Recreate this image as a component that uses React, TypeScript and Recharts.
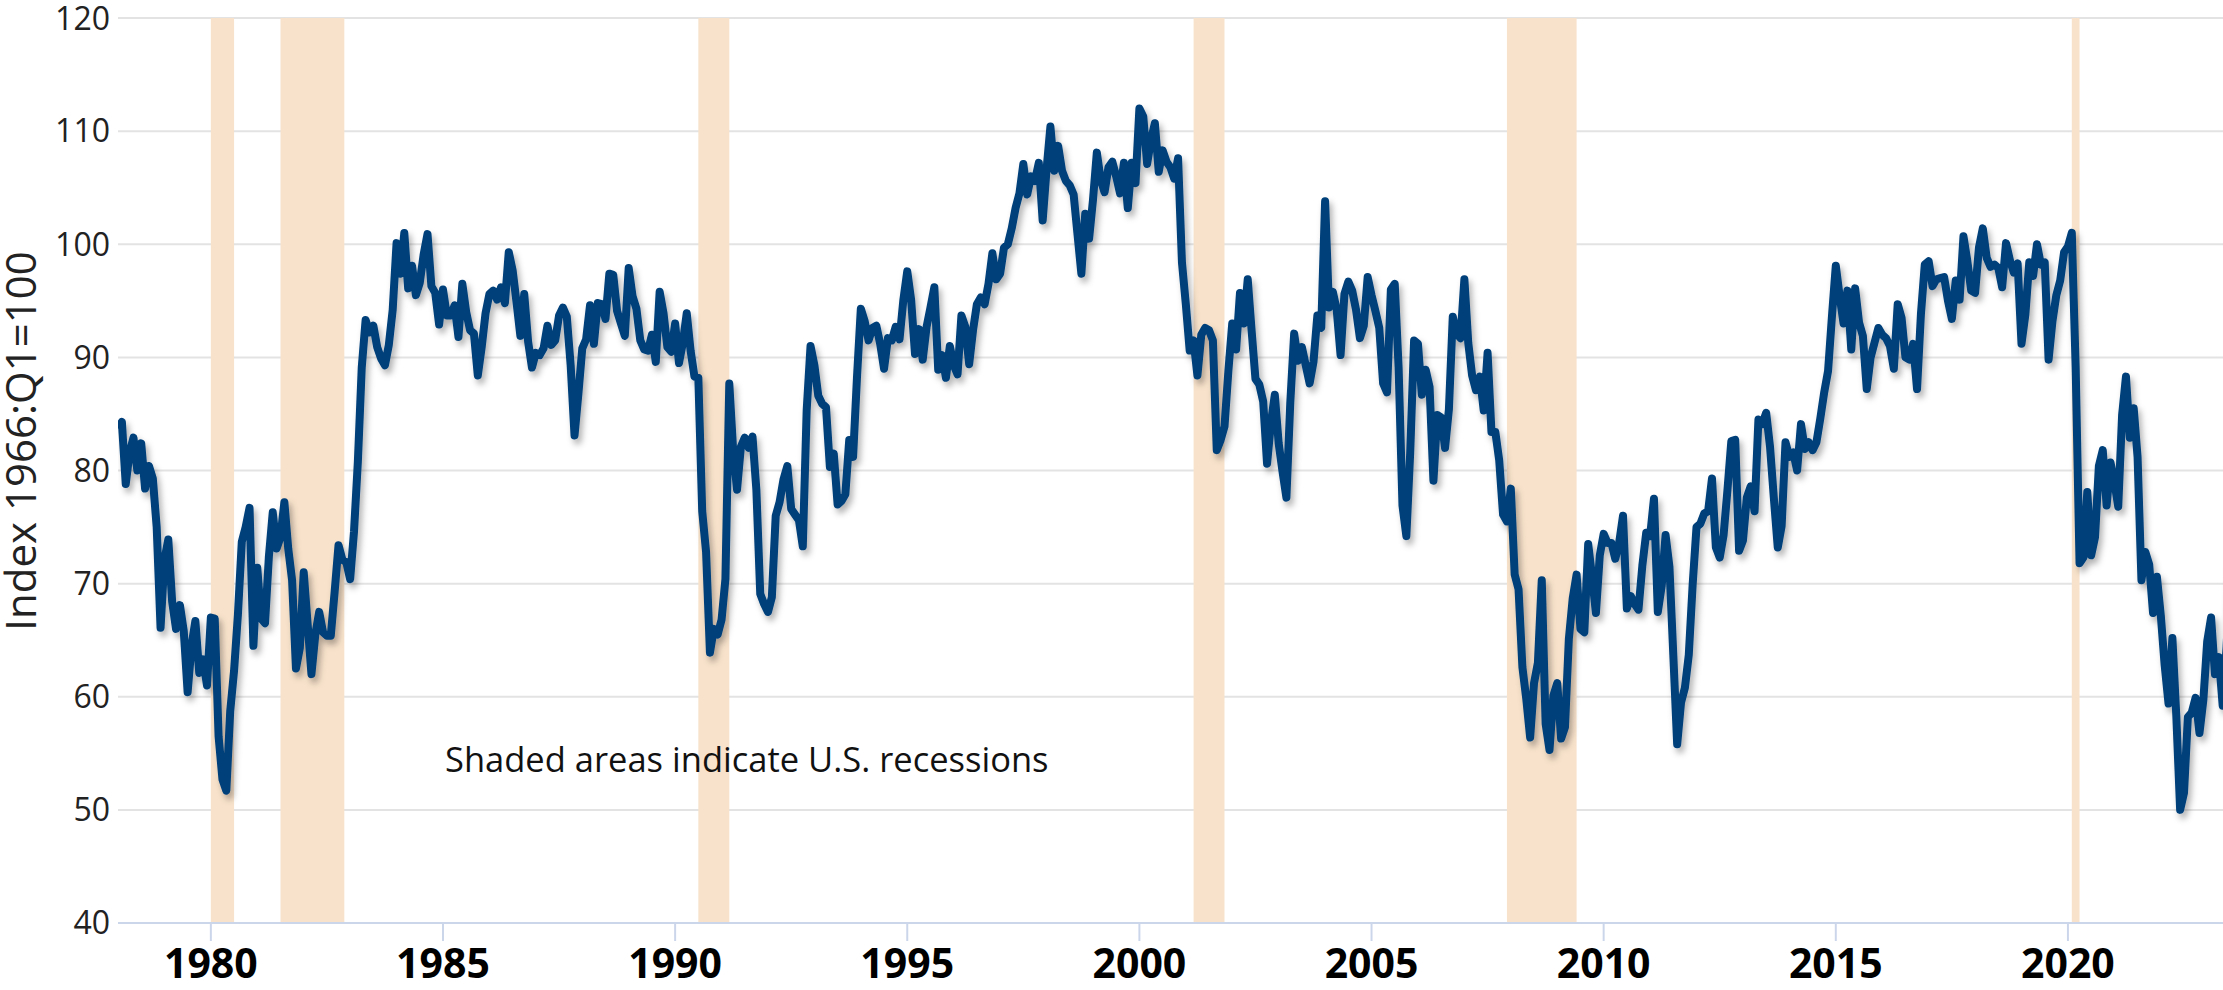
import { CartesianGrid, Line, LineChart, ReferenceArea, XAxis, YAxis } from "recharts"

// University of Michigan consumer sentiment, monthly, Jan 1978 onward
const startYear = 1978

const sentiment1970s = [
  83.7, 84.3, 78.8, 81.6, 82.9, 80.0, 82.4, 78.4, 80.4, 79.3, 75.0, 66.1,
  72.1, 73.9, 68.4, 66.0, 68.1, 65.8, 60.4, 64.5, 66.7, 62.1, 63.3, 61.0,
]

const sentiment1980s = [
  67.0, 66.9, 56.5, 52.7, 51.7, 58.7, 62.3, 67.3, 73.7, 75.0, 76.7, 64.5,
  71.4, 66.9, 66.5, 72.4, 76.3, 73.1, 74.1, 77.2, 73.1, 70.3, 62.5, 64.3,
  71.0, 66.5, 62.0, 65.5, 67.5, 65.7, 65.4, 65.4, 69.3, 73.4, 72.1, 71.9,
  70.4, 74.6, 80.8, 89.1, 93.3, 92.2, 92.8, 90.9, 89.9, 89.3, 91.1, 94.2,
  100.1, 97.4, 101.0, 96.1, 98.1, 95.5, 96.6, 99.1, 100.9, 96.3, 95.7, 92.9,
  96.0, 93.7, 93.7, 94.6, 91.8, 96.5, 94.0, 92.4, 92.1, 88.4, 90.9, 93.9,
  95.6, 95.9, 95.1, 96.2, 94.8, 99.3, 97.7, 94.9, 91.9, 95.6, 91.4, 89.1,
  90.4, 90.2, 90.8, 92.8, 91.1, 91.5, 93.7, 94.4, 93.6, 89.3, 83.1, 86.8,
  90.8, 91.6, 94.6, 91.2, 94.8, 94.7, 93.4, 97.4, 97.3, 94.1, 93.0, 91.9,
  97.9, 95.4, 94.3, 91.5, 90.7, 90.6, 92.0, 89.6, 95.8, 93.9, 90.9, 90.5,
]

const sentiment1990s = [
  93.0, 89.5, 91.3, 93.9, 90.6, 88.3, 88.2, 76.4, 72.8, 63.9, 66.0, 65.5,
  66.8, 70.4, 87.7, 81.8, 78.3, 82.1, 82.9, 82.0, 83.0, 78.3, 69.1, 68.2,
  67.5, 68.8, 76.0, 77.2, 79.2, 80.4, 76.6, 76.1, 75.6, 73.3, 85.3, 91.0,
  89.3, 86.6, 85.9, 85.6, 80.3, 81.5, 77.0, 77.3, 77.9, 82.7, 81.2, 88.2,
  94.3, 93.2, 91.5, 92.6, 92.8, 91.2, 89.0, 91.7, 91.5, 92.7, 91.6, 95.1,
  97.6, 95.1, 90.3, 92.5, 89.8, 92.7, 94.4, 96.2, 88.9, 90.2, 88.2, 91.0,
  89.3, 88.5, 93.7, 92.7, 89.4, 92.4, 94.7, 95.3, 94.7, 96.5, 99.2, 96.9,
  97.4, 99.7, 100.0, 101.4, 103.2, 104.5, 107.1, 104.4, 106.0, 105.6, 107.2, 102.1,
  106.6, 110.4, 106.5, 108.7, 106.5, 105.6, 105.2, 104.4, 100.9, 97.4, 102.7, 100.5,
  103.9, 108.1, 105.7, 104.6, 106.8, 107.3, 106.0, 104.5, 107.2, 103.2, 107.2, 105.4,
]

const sentiment2000s = [
  112.0, 111.3, 107.1, 109.2, 110.7, 106.4, 108.3, 107.3, 106.8, 105.8, 107.6, 98.4,
  94.7, 90.6, 91.5, 88.4, 92.0, 92.6, 92.4, 91.5, 81.8, 82.7, 83.9, 88.8,
  93.0, 90.7, 95.7, 93.0, 96.9, 92.4, 88.1, 87.6, 86.1, 80.6, 84.2, 86.7,
  82.4, 79.9, 77.6, 86.0, 92.1, 89.7, 90.9, 89.3, 87.7, 89.6, 93.7, 92.6,
  103.8, 94.4, 95.8, 94.2, 90.2, 95.6, 96.7, 95.9, 94.2, 91.7, 92.8, 97.1,
  95.5, 94.1, 92.6, 87.7, 86.9, 96.0, 96.5, 89.1, 76.9, 74.2, 81.6, 91.5,
  91.2, 86.7, 88.9, 87.4, 79.1, 84.9, 84.7, 82.0, 85.4, 93.6, 92.1, 91.7,
  96.9, 91.3, 88.4, 87.1, 88.3, 85.3, 90.4, 83.4, 83.4, 80.9, 76.1, 75.5,
  78.4, 70.8, 69.5, 62.6, 59.8, 56.4, 61.2, 63.0, 70.3, 57.6, 55.3, 60.1,
  61.2, 56.3, 57.3, 65.1, 68.7, 70.8, 66.0, 65.7, 73.5, 70.6, 67.4, 72.5,
]

const sentiment2010s = [
  74.4, 73.6, 73.6, 72.2, 73.6, 76.0, 67.8, 68.9, 68.2, 67.7, 71.6, 74.5,
  74.2, 77.5, 67.5, 69.8, 74.3, 71.5, 63.7, 55.8, 59.5, 60.8, 63.7, 69.9,
  75.0, 75.3, 76.2, 76.4, 79.3, 73.2, 72.3, 74.3, 78.3, 82.6, 82.7, 72.9,
  73.8, 77.6, 78.6, 76.4, 84.5, 84.1, 85.1, 82.1, 77.5, 73.2, 75.1, 82.5,
  81.2, 81.6, 80.0, 84.1, 81.9, 82.5, 81.8, 82.5, 84.6, 86.9, 88.8, 93.6,
  98.1, 95.4, 93.0, 95.9, 90.7, 96.1, 93.1, 91.9, 87.2, 90.0, 91.3, 92.6,
  92.0, 91.7, 91.0, 89.0, 94.7, 93.5, 90.0, 89.8, 91.2, 87.2, 93.8, 98.2,
  98.5, 96.3, 96.9, 97.0, 97.1, 95.0, 93.4, 96.8, 95.1, 100.7, 98.5, 95.9,
  95.7, 99.7, 101.4, 98.8, 98.0, 98.2, 97.9, 96.2, 100.1, 98.6, 97.5, 98.3,
  91.2, 93.8, 98.4, 97.2, 100.0, 98.2, 98.4, 89.8, 93.2, 95.5, 96.8, 99.3,
]

const sentiment2020s = [
  99.8, 101.0, 89.1, 71.8, 72.3, 78.1, 72.5, 74.1, 80.4, 81.8, 76.9, 80.7,
  79.0, 76.8, 84.9, 88.3, 82.9, 85.5, 81.2, 70.3, 72.8, 71.7, 67.4, 70.6,
  67.2, 62.8, 59.4, 65.2, 58.4, 50.0, 51.5, 58.2, 58.6, 59.9, 56.8, 59.7,
  64.9, 67.0, 62.0, 63.5, 59.2, 64.4, 71.6,
]

const recessions = [
  { start: 1980.0, end: 1980.5 },
  { start: 1981.5, end: 1982.875 },
  { start: 1990.5, end: 1991.167 },
  { start: 2001.167, end: 2001.833 },
  { start: 2007.917, end: 2009.417 },
  { start: 2020.083, end: 2020.25 },
]

const xTicks = [1980, 1985, 1990, 1995, 2000, 2005, 2010, 2015, 2020]
const yTicks = [40, 50, 60, 70, 80, 90, 100, 110, 120]

const monthly = [
  ...sentiment1970s,
  ...sentiment1980s,
  ...sentiment1990s,
  ...sentiment2000s,
  ...sentiment2010s,
  ...sentiment2020s,
]

const data = monthly.map((value, i) => ({ t: startYear + i / 12, value }))

const font = "'Open Sans', sans-serif"

export default function App() {
  return (
    <div style={{ position: "absolute", left: 0, top: 0, width: 2223, height: 990, background: "#fff", fontFamily: font }}>
      <style>{`.recharts-line-curve { filter: url(#lineShadow); }`}</style>
      <svg width={0} height={0} style={{ position: "absolute" }}>
        <defs>
          <filter id="lineShadow" x="-5%" y="-5%" width="110%" height="115%">
            <feDropShadow dx="3" dy="5" stdDeviation="3" floodColor="#000" floodOpacity="0.3" />
          </filter>
        </defs>
      </svg>
      <LineChart width={2223} height={990} data={data} margin={{ top: 18, right: 0, bottom: 0, left: 0 }}>
        <CartesianGrid vertical={false} stroke="#e3e3e3" strokeWidth={2} />
        {recessions.map((r) => (
          <ReferenceArea key={r.start} x1={r.start} x2={r.end} y1={40} y2={120} fill="#f8e2cb" fillOpacity={1} stroke="none" />
        ))}
        <XAxis
          dataKey="t"
          type="number"
          domain={[1978, 2023.34]}
          allowDataOverflow
          ticks={xTicks}
          height={67}
          axisLine={{ stroke: "#ccd6eb", strokeWidth: 2 }}
          tickLine={{ stroke: "#ccd6eb", strokeWidth: 2 }}
          tickSize={18}
          tickMargin={8}
          tick={{ fontSize: 41, fontWeight: 700, fill: "#000", fontFamily: font }}
        />
        <YAxis
          type="number"
          domain={[40, 120]}
          ticks={yTicks}
          width={118}
          axisLine={false}
          tickLine={false}
          tick={{ fontSize: 32, fill: "#222", fontFamily: font }}
        />
        <Line
          type="linear"
          dataKey="value"
          stroke="#00407a"
          strokeWidth={8}
          strokeLinejoin="round"
          dot={false}
          activeDot={false}
          isAnimationActive={false}
        />
      </LineChart>
      <svg width={2223} height={990} style={{ position: "absolute", left: 0, top: 0, pointerEvents: "none" }}>
        <text x={36} y={441} transform="rotate(-90 36 441)" textAnchor="middle" fontSize={42} fill="#222" fontFamily={font}>
          Index 1966:Q1=100
        </text>
        <text x={445} y={772} fontSize={34.5} fill="#111" fontFamily={font}>
          Shaded areas indicate U.S. recessions
        </text>
      </svg>
    </div>
  )
}
